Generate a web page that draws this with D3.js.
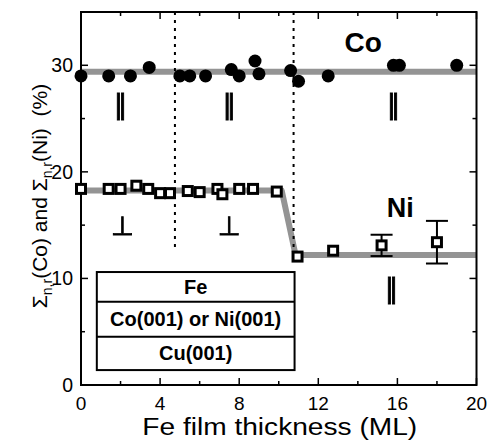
<!DOCTYPE html>
<html>
<head>
<meta charset="utf-8">
<script src="https://cdn.jsdelivr.net/npm/d3@7"></script>
<style>
  html, body { margin: 0; padding: 0; background: #fff; }
  svg { display: block; font-family: "Liberation Sans", Arial, sans-serif; }
</style>
</head>
<body>
<svg id="chart" width="488" height="440"></svg>
<script>
// Fe film thickness (ML) and in-plane relative moment sums (%)
const coX = [0, 1.4, 2.5, 3.45, 5.0, 5.5, 6.3, 7.6, 8.0, 8.8, 9.0, 10.6, 11.0, 12.5, 15.8, 16.1, 19.0];
const coY = [29.0, 29.0, 29.0, 29.8, 29.0, 29.0, 29.0, 29.6, 29.0, 30.4, 29.2, 29.5, 28.5, 29.0, 30.0, 30.0, 30.0];

const niX = [0, 1.4, 2.0, 2.8, 3.4, 4.0, 4.5, 5.4, 6.0, 6.9, 7.15, 8.0, 8.7, 9.9, 10.95, 12.75, 15.2, 18.0];
const niY = [18.4, 18.4, 18.4, 18.7, 18.4, 18.0, 18.0, 18.2, 18.1, 18.4, 17.9, 18.4, 18.4, 18.15, 12.05, 12.6, 13.1, 13.4];
const niErr = [0, 0, 0, 0, 0, 0, 0, 0, 0, 0, 0, 0, 0, 0, 0, 0, 1.0, 2.0];

// Guide lines through each series
const coFitX = [0, 20];
const coFitY = [29.4, 29.4];
const niFitX = [0, 10.15, 10.85, 20];
const niFitY = [18.25, 18.25, 12.2, 12.2];

// Boundaries between magnetization regimes
const regimeX = [4.75, 10.75];
const regimeTop = 35;
const regimeBottom = 12.7;

// Magnetization direction marks
const dirLabels = ["\u2016", "\u2016", "\u2016", "\u22A5", "\u22A5", "\u2016"];
const dirX = [2.0, 7.5, 15.8, 2.1, 7.5, 15.7];
const dirY = [26.4, 26.4, 26.4, 14.9, 14.9, 9.1];

// Axis ticks
const xTicks = [0, 4, 8, 12, 16, 20];
const xMinor = [2, 6, 10, 14, 18];
const yTicks = [0, 10, 20, 30];
const yMinor = [5, 15, 25];

// Layer stack drawn as an inset
const stackLayers = ["Fe", "Co(001) or Ni(001)", "Cu(001)"];
const stackEdges = [10.6, 7.82, 4.53, 1.4];
const stackX = [0.8, 10.8];

const svg = d3.select("#chart");
const plotL = 81, plotR = 476.5, plotT = 12, plotB = 385;

const x = d3.scaleLinear().domain([0, 20]).range([plotL, plotR]);
const y = d3.scaleLinear().domain([0, 35]).range([plotB, plotT]);

// Identity filter: renders its content offscreen with plain grayscale edges
svg.append("defs").append("filter").attr("id", "flat")
  .append("feOffset").attr("dx", 0).attr("dy", 0);

// Fit bands
const line = d3.line().x(d => x(d[0])).y(d => y(d[1]));
svg.append("path")
  .attr("d", line(coFitX.map((v, i) => [v, coFitY[i]])))
  .attr("fill", "none").attr("stroke", "#949494").attr("stroke-width", 6);
svg.append("path")
  .attr("d", line(niFitX.map((v, i) => [v, niFitY[i]])))
  .attr("fill", "none").attr("stroke", "#949494").attr("stroke-width", 6)
  .attr("stroke-linejoin", "round");

// Regime boundaries
svg.selectAll("line.regime").data(regimeX).join("line")
  .attr("class", "regime")
  .attr("x1", d => x(d)).attr("x2", d => x(d))
  .attr("y1", y(regimeTop)).attr("y2", y(regimeBottom))
  .attr("stroke", "#000").attr("stroke-width", 2)
  .attr("stroke-dasharray", "3,5");

// Frame
svg.append("rect")
  .attr("x", plotL).attr("y", plotT)
  .attr("width", plotR - plotL).attr("height", plotB - plotT)
  .attr("fill", "none").attr("stroke", "#000").attr("stroke-width", 2);

// Ticks on all four sides, pointing inward
const tickG = svg.append("g").attr("stroke", "#000").attr("stroke-width", 1.5);
function xTickMarks(vals, len) {
  vals.forEach(v => {
    tickG.append("line").attr("x1", x(v)).attr("x2", x(v)).attr("y1", plotB).attr("y2", plotB - len);
    tickG.append("line").attr("x1", x(v)).attr("x2", x(v)).attr("y1", plotT).attr("y2", plotT + len);
  });
}
function yTickMarks(vals, len) {
  vals.forEach(v => {
    tickG.append("line").attr("y1", y(v)).attr("y2", y(v)).attr("x1", plotL).attr("x2", plotL + len);
    tickG.append("line").attr("y1", y(v)).attr("y2", y(v)).attr("x1", plotR).attr("x2", plotR - len);
  });
}
xTickMarks(xTicks, 7);
xTickMarks(xMinor, 4);
yTickMarks(yTicks, 7);
yTickMarks(yMinor, 4);

// Tick labels
svg.selectAll("text.xt").data(xTicks).join("text")
  .attr("class", "xt")
  .attr("x", d => x(d)).attr("y", 409.5)
  .attr("text-anchor", "middle").attr("font-size", 19)
  .text(d => d);
svg.selectAll("text.yt").data(yTicks).join("text")
  .attr("class", "yt")
  .attr("x", 73).attr("y", d => y(d) + 7)
  .attr("text-anchor", "end").attr("font-size", 19.5)
  .text(d => d);

// Axis titles
svg.append("text")
  .attr("x", (plotL + plotR) / 2 + 1).attr("y", 434.5)
  .attr("text-anchor", "middle").attr("font-size", 23.5)
  .attr("textLength", 275).attr("lengthAdjust", "spacingAndGlyphs")
  .text("Fe film thickness (ML)");

const yTitle = svg.append("text")
  .attr("transform", "translate(47,196) rotate(-90)")
  .attr("text-anchor", "middle").attr("font-size", 21)
  .style("white-space", "pre");
yTitle.append("tspan").text("\u03A3");
yTitle.append("tspan").attr("font-size", 14).attr("dy", 5).text("n,r");
yTitle.append("tspan").attr("dy", -5).text("(Co) and \u03A3");
yTitle.append("tspan").attr("font-size", 14).attr("dy", 5).text("n,r");
yTitle.append("tspan").attr("dy", -5).text("(Ni)  (%)");

// Error bars
const errIdx = niErr.map((e, i) => i).filter(i => niErr[i] > 0);
const errG = svg.append("g").attr("stroke", "#000").attr("stroke-width", 2);
errIdx.forEach(i => {
  const cx = x(niX[i]);
  errG.append("line").attr("x1", cx).attr("x2", cx)
    .attr("y1", y(niY[i] - niErr[i])).attr("y2", y(niY[i] + niErr[i]));
  [niY[i] - niErr[i], niY[i] + niErr[i]].forEach(v => {
    errG.append("line").attr("x1", cx - 11).attr("x2", cx + 11)
      .attr("y1", y(v)).attr("y2", y(v));
  });
});

// Co points
svg.selectAll("circle.co").data(coX).join("circle")
  .attr("class", "co")
  .attr("cx", d => x(d)).attr("cy", (d, i) => y(coY[i]))
  .attr("r", 6.5).attr("fill", "#000");

// Ni points
svg.selectAll("rect.ni").data(niX).join("rect")
  .attr("class", "ni")
  .attr("x", d => x(d) - 4.5).attr("y", (d, i) => y(niY[i]) - 4.5)
  .attr("width", 9).attr("height", 9)
  .attr("fill", "#fff").attr("stroke", "#000").attr("stroke-width", 3);

// Series names
svg.append("text").attr("x", x(14.27)).attr("y", y(31.2))
  .attr("text-anchor", "middle").attr("font-size", 28).attr("font-weight", "bold")
  .text("Co");
svg.append("text").attr("x", x(16.15)).attr("y", y(15.75))
  .attr("text-anchor", "middle").attr("font-size", 27).attr("font-weight", "bold")
  .text("Ni");

// Direction marks
const dirG = svg.append("g").attr("filter", "url(#flat)");
dirG.selectAll("text.dir").data(dirLabels).join("text")
  .attr("class", "dir")
  .attr("x", (d, i) => x(dirX[i])).attr("y", (d, i) => y(dirY[i]))
  .attr("text-anchor", "middle").attr("dominant-baseline", "central")
  .attr("font-family", "DejaVu Sans").attr("font-size", 26)
  .attr("fill", "#000").attr("stroke", "#000").attr("stroke-width", 0.9)
  .text(d => d);

// Layer stack inset
const stack = svg.append("g");
stack.append("rect")
  .attr("x", x(stackX[0])).attr("y", y(stackEdges[0]))
  .attr("width", x(stackX[1]) - x(stackX[0]))
  .attr("height", y(stackEdges[3]) - y(stackEdges[0]))
  .attr("fill", "#fff").attr("stroke", "#000").attr("stroke-width", 2);
[stackEdges[1], stackEdges[2]].forEach(v => {
  stack.append("line")
    .attr("x1", x(stackX[0])).attr("x2", x(stackX[1]))
    .attr("y1", y(v)).attr("y2", y(v))
    .attr("stroke", "#000").attr("stroke-width", 2);
});
stackLayers.forEach((name, i) => {
  stack.append("text")
    .attr("x", (x(stackX[0]) + x(stackX[1])) / 2)
    .attr("y", (y(stackEdges[i]) + y(stackEdges[i + 1])) / 2)
    .attr("dominant-baseline", "central")
    .attr("text-anchor", "middle").attr("font-size", 20).attr("font-weight", "bold")
    .text(name);
});
</script>
</body>
</html>
